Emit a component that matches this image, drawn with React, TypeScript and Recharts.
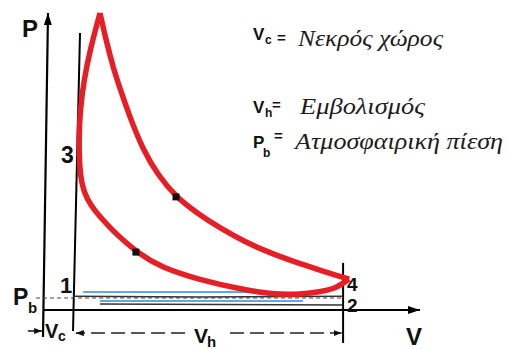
import { ComposedChart, Line, Scatter, XAxis, YAxis, ReferenceLine } from 'recharts';

// red working loop: expansion (peak -> 4) and compression / combustion side (peak -> 3 -> 4)
const expansionV = [1.89, 2.09, 2.32, 2.59, 2.88, 3.32, 3.81, 4.41, 5.11, 5.87, 6.7, 7.53, 8.36, 9.18, 9.68, 10.15];
const expansionP = [99, 90, 81, 72.7, 64.3, 53.3, 45, 37.7, 32.3, 27.3, 22.7, 19, 16, 13.3, 11.7, 10.3];

const compressionV = [1.89, 1.56, 1.36, 1.23, 1.19, 1.21, 1.3, 1.46, 1.7, 1.99, 2.29, 2.69, 3.12, 3.88, 5.21, 6.53, 7.76, 8.52, 9.18, 9.68, 9.91, 10.15];
const compressionP = [99, 86.7, 76.7, 66.7, 56.7, 47.5, 41.2, 37, 33.3, 30, 26.7, 23, 19.3, 14.3, 10, 7, 5, 5.3, 6, 7.2, 8.67, 10.3];

// gas exchange lines near atmospheric pressure
const blueUpperV = [1.33, 7.63];
const blueUpperP = [6, 6];
const blueLowerV = [1.89, 8.62];
const blueLowerP = [3, 3];
const exhaustV = [1.0, 5.2, 9.95];
const exhaustP = [4.6, 4.3, 4.6];
const intakeV = [1.89, 9.95];
const intakeP = [2, 1.7];

// black marks on the curves
const markV = [4.41, 3.08];
const markP = [37.7, 19.3];

const pb = 4;
const vc = 1;
const vBdc = 9.95;

const legendTerms = ['Νεκρός χώρος', 'Εμβολισμός', 'Ατμοσφαιρική πίεση'];

const toPoints = (vs: number[], ps: number[]) => vs.map((v, i) => ({ v, p: ps[i] }));

const expansion = toPoints(expansionV, expansionP);
const compression = toPoints(compressionV, compressionP);
const blueUpper = toPoints(blueUpperV, blueUpperP);
const blueLower = toPoints(blueLowerV, blueLowerP);
const exhaust = toPoints(exhaustV, exhaustP);
const intake = toPoints(intakeV, intakeP);
const marks = toPoints(markV, markP);

const RED = '#e61e25';
const BLUE = '#2b8cd6';
const sans = 'Liberation Sans';

const Mark = (props: any) => (
  <rect x={props.cx - 3.5} y={props.cy - 3.5} width={7} height={7} fill="#111" />
);

const greek = { fontFamily: 'Liberation Serif', fontStyle: 'italic', fontSize: 23, fill: '#1c1c1c' } as const;

export default function App() {
  return (
    <div style={{ position: 'absolute', left: 0, top: 0, width: 507, height: 349, background: '#fff' }}>
      <svg width={0} height={0} style={{ position: 'absolute' }}>
        <defs>
          <marker id="arrAxis" viewBox="0 0 12 8" refX="12" refY="4" markerWidth="12" markerHeight="8"
            markerUnits="userSpaceOnUse" orient="auto">
            <path d="M0,0 L12,4 L0,8 z" fill="#000" />
          </marker>
          <marker id="arrDim" viewBox="0 0 8 6" refX="8" refY="3" markerWidth="8" markerHeight="6"
            markerUnits="userSpaceOnUse" orient="auto">
            <path d="M0,0 L8,3 L0,6 z" fill="#111" />
          </marker>
        </defs>
      </svg>

      <ComposedChart width={507} height={349} margin={{ top: 10, right: 87, bottom: 1.5, left: 43 }}>
        <XAxis type="number" dataKey="v" domain={[0, 12.5]} hide allowDataOverflow />
        <YAxis type="number" dataKey="p" domain={[-12.5, 100]} hide allowDataOverflow />

        {/* axes */}
        <ReferenceLine segment={[{ x: 0, y: -9 }, { x: 0.166, y: 99 }]} stroke="#000" strokeWidth={2.2}
          ifOverflow="visible" markerEnd="url(#arrAxis)" />
        <ReferenceLine segment={[{ x: 0, y: 0 }, { x: 12.5, y: 0 }]} stroke="#000" strokeWidth={2}
          ifOverflow="visible" markerEnd="url(#arrAxis)" />

        {/* dead centres */}
        <ReferenceLine segment={[{ x: vc - 0.005, y: -7 }, { x: vc + 0.227, y: 92.3 }]} stroke="#000"
          strokeWidth={2} ifOverflow="visible" />
        <ReferenceLine segment={[{ x: vBdc, y: -11 }, { x: vBdc, y: 15.7 }]} stroke="#000"
          strokeWidth={2} ifOverflow="visible" />

        {/* atmospheric pressure */}
        <ReferenceLine segment={[{ x: -0.23, y: pb }, { x: vBdc, y: pb }]} stroke="#444"
          strokeWidth={1} strokeDasharray="4 3" ifOverflow="visible" />

        {/* Vc and Vh dimensions */}
        <ReferenceLine segment={[{ x: -0.5, y: -7 }, { x: -0.03, y: -7 }]} stroke="#111" strokeWidth={1.5}
          ifOverflow="visible" markerEnd="url(#arrDim)" />
        <ReferenceLine segment={[{ x: 4.71, y: -7.7 }, { x: 1.09, y: -7.7 }]} stroke="#222" strokeWidth={1.5}
          strokeDasharray="14 6" ifOverflow="visible" markerEnd="url(#arrDim)" />
        <ReferenceLine segment={[{ x: 6.2, y: -7.7 }, { x: 9.9, y: -7.7 }]} stroke="#222" strokeWidth={1.5}
          strokeDasharray="14 6" ifOverflow="visible" markerEnd="url(#arrDim)" />

        <Line data={exhaust} dataKey="p" type="linear" stroke="#333" strokeWidth={1.5} dot={false}
          isAnimationActive={false} />
        <Line data={intake} dataKey="p" type="linear" stroke="#333" strokeWidth={1.5} dot={false}
          isAnimationActive={false} />
        <Line data={blueUpper} dataKey="p" type="linear" stroke={BLUE} strokeWidth={1.6} dot={false}
          isAnimationActive={false} />
        <Line data={blueLower} dataKey="p" type="linear" stroke={BLUE} strokeWidth={1.6} dot={false}
          isAnimationActive={false} />

        <Line data={expansion} dataKey="p" type="basis" stroke={RED} strokeWidth={5.5} dot={false}
          strokeLinejoin="round" isAnimationActive={false} />
        <Line data={compression} dataKey="p" type="basis" stroke={RED} strokeWidth={5.5} dot={false}
          strokeLinejoin="round" isAnimationActive={false} />

        <Scatter data={marks} dataKey="p" shape={Mark} isAnimationActive={false} />
      </ComposedChart>

      <svg width={507} height={349} style={{ position: 'absolute', left: 0, top: 0, pointerEvents: 'none' }}>
        <g fontFamily={sans} fontWeight="bold" fill="#111">
          <text x={22} y={37} fontSize={24}>P</text>
          <text x={61} y={163} fontSize={23}>3</text>
          <text x={60} y={293} fontSize={22}>1</text>
          <text x={13} y={305} fontSize={23}>P</text>
          <text x={28} y={313} fontSize={15}>b</text>
          <text x={347} y={291} fontSize={19}>4</text>
          <text x={347} y={312} fontSize={19}>2</text>
          <text x={406} y={345} fontSize={24}>V</text>
          <text x={45} y={338} fontSize={20}>V</text>
          <text x={58} y={341} fontSize={14}>c</text>
          <text x={194} y={343} fontSize={21}>V</text>
          <text x={207} y={347} fontSize={15}>h</text>

          <text x={253} y={40} fontSize={17}>V</text>
          <text x={265} y={44} fontSize={12}>c</text>
          <text x={277} y={43} fontSize={15}>=</text>
          <text x={253} y={113} fontSize={17}>V</text>
          <text x={265} y={117} fontSize={12}>h</text>
          <text x={272} y={110} fontSize={15}>=</text>
          <text x={253} y={148} fontSize={17}>P</text>
          <text x={263} y={157} fontSize={12}>b</text>
          <text x={274} y={141} fontSize={15}>=</text>
        </g>
        <text x={298} y={46} style={greek} textLength={145} lengthAdjust="spacingAndGlyphs">{legendTerms[0]}</text>
        <text x={300} y={114} style={greek} textLength={125} lengthAdjust="spacingAndGlyphs">{legendTerms[1]}</text>
        <text x={295} y={149} style={greek} textLength={208} lengthAdjust="spacingAndGlyphs">{legendTerms[2]}</text>
      </svg>
    </div>
  );
}
